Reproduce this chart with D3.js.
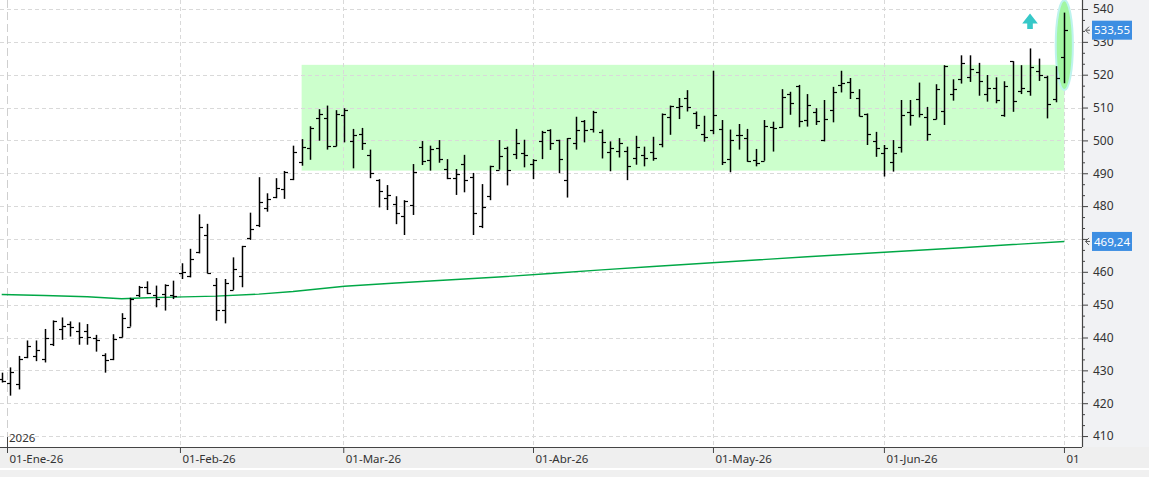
<!DOCTYPE html>
<html>
<head>
<meta charset="utf-8">
<script src="https://cdn.jsdelivr.net/npm/d3@7"></script>
<style>
  body { margin: 0; background: #fff; }
  text { font-family: "Noto Sans", "Open Sans", sans-serif; }
</style>
</head>
<body>
<div id="chart"></div>
<script>
// daily OHLC bars, 31-Dic-25 .. 01-Jul-26 (one per trading day)
var opens = [427.3,426.3,425.7,434.2,434.4,433.4,437.9,442.5,444.1,441.9,441.9,439.7,434.8,433.4,440.1,443.3,452.8,455.4,453.0,453.1,452.8,459.5,458.7,466.1,471.2,456.0,448.3,454.5,458.7,470.2,474.1,479.3,482.9,485.1,
  488.2,493.5,497.7,506.8,506.8,498.2,507.7,499.9,501.9,495.5,488.0,482.5,480.6,477.1,480.3,498.1,494.1,497.6,491.3,488.6,492.8,488.8,474.0,483.1,491.1,497.7,495.8,496.1,492.8,499.9,503.2,500.1,487.9,499.2,506.0,
  503.5,502.6,496.5,496.9,496.9,494.6,495.5,496.5,498.9,507.2,510.3,512.9,508.3,501.9,503.1,503.5,494.3,501.6,500.7,494.0,493.8,504.2,504.0,514.1,516.6,506.2,508.5,500.1,509.2,516.9,517.7,512.9,508.0,499.9,
  496.3,493.5,498.1,508.6,512.5,507.2,506.4,509.0,514.0,518.6,519.4,520.7,514.1,516.1,507.7,524.1,515.0,515.0,521.1,519.4,512.6,525.3];
var highs = [429.3,430.9,434.4,439.1,439.1,442.6,445.2,446.1,444.9,444.6,444.1,440.8,435.2,441.0,447.4,452.1,455.7,457.1,455.8,456.2,457.3,462.6,467.0,477.5,474.6,458.1,457.8,464.4,467.9,478.0,488.8,483.9,488.5,490.7,
  498.4,500.4,504.3,509.5,510.6,509.2,509.8,503.5,503.8,497.2,488.2,486.4,483.0,481.8,492.8,499.8,498.4,500.1,494.3,491.3,495.6,490.1,486.7,492.3,500.1,498.1,503.5,500.2,494.3,502.9,503.4,500.2,500.7,507.2,506.2,
  509.0,503.3,499.7,500.7,498.1,501.4,498.1,501.1,508.2,510.6,512.9,515.3,508.8,507.5,521.2,506.2,503.3,505.0,503.5,497.4,506.2,505.7,515.6,514.8,516.9,514.1,509.8,512.3,516.3,521.2,519.0,515.6,508.2,502.6,
  498.6,500.1,512.3,512.3,517.6,510.2,517.1,522.9,518.6,525.9,525.9,523.6,519.9,519.2,518.0,524.1,522.9,528.0,524.9,519.7,522.6,538.9];
var lows = [426.3,422.3,424.2,433.7,432.8,432.4,437.4,439.3,440.3,437.8,437.8,435.7,429.3,433.1,440.0,443.3,452.3,453.2,449.2,448.2,451.7,457.8,458.3,465.6,459.5,445.1,444.3,454.5,455.3,469.7,473.6,478.3,482.4,482.2,
  487.9,492.3,494.1,499.9,497.2,498.2,499.4,491.5,497.1,488.5,479.6,478.8,474.5,471.2,477.3,492.5,490.8,493.2,488.2,483.4,484.2,471.2,473.3,481.8,491.1,486.3,494.3,491.8,488.2,494.3,497.1,490.0,482.6,497.2,499.4,
  502.4,494.5,490.6,494.8,487.9,492.6,492.1,493.8,497.9,501.7,506.5,508.8,503.5,499.6,501.9,492.5,490.3,497.2,493.5,492.1,493.8,496.6,503.8,507.8,504.0,504.2,504.7,499.7,505.5,514.6,512.6,507.3,498.6,495.0,
  489.0,490.5,496.3,504.5,507.0,499.9,506.4,504.7,512.1,517.3,517.8,513.6,511.8,511.3,507.2,508.7,514.1,513.6,518.1,506.7,511.6,517.4];
var closes = [426.8,429.6,433.4,437.4,436.3,439.7,445.0,443.6,443.1,440.2,440.3,439.1,433.1,439.4,445.8,451.8,455.5,453.5,451.7,456.0,452.7,459.8,463.9,473.6,459.7,448.3,456.7,461.0,467.9,472.9,481.3,482.1,485.6,490.4,
  496.5,498.0,503.8,508.0,498.2,508.0,509.2,501.6,499.2,490.0,484.6,483.4,477.9,481.6,490.5,493.8,497.4,494.2,488.6,489.8,488.0,477.8,479.8,492.1,495.2,491.1,499.3,495.5,494.0,502.6,499.2,494.3,500.6,503.1,503.1,
  508.7,499.6,497.7,499.2,492.3,498.1,494.5,494.7,508.0,510.4,510.6,510.1,504.8,500.9,507.8,493.5,500.1,501.6,493.7,493.1,504.4,503.8,513.1,511.4,505.8,510.9,505.8,506.5,514.6,517.5,514.8,507.5,502.1,497.7,
  497.6,496.1,507.7,507.6,507.9,502.1,515.5,522.6,515.5,523.7,521.6,518.1,515.8,512.3,516.6,512.1,515.8,522.2,519.9,511.1,518.9,533.55];

// moving average, read at some bars
var maIdx = [0,5,10,14,17,20,25,30,34,40,46,52,58,64,70,76,82,88,94,100,106,112,118,124];
var maVal = [453.1,452.8,452.4,451.8,452.1,452.3,452.6,453.2,454.0,455.6,456.6,457.5,458.4,459.5,460.6,461.6,462.6,463.6,464.6,465.5,466.4,467.3,468.3,469.24];

// month marks (bar index) and labels
var monthIdx = [0.62, 20.8, 39.86, 62, 83, 102.95, 123.96];
var monthLabels = ["01-Ene-26", "01-Feb-26", "01-Mar-26", "01-Abr-26", "01-May-26", "01-Jun-26", "01"];
var yTicks = d3.range(410, 541, 10);
var yearLabel = "2026";

// range box (bar index from/to, price low/high), ellipse and arrow
var boxIdx = [35, 124];
var boxVal = [490.8, 523.0];
var ellipseIdx = 124, ellipseVal = 529, ellipseSpan = 13.7;
var arrowIdx = 120, arrowVal = 538.6;

var width = 1149, height = 477;
var plotRight = 1082, plotBottom = 447;

var svg = d3.select("#chart").append("svg")
    .attr("width", width)
    .attr("height", height);

var x = d3.scaleLinear().domain([0, 124]).range([1.7, 1064.3]);
var y = d3.scaleLinear().domain([410, 540]).range([436.05, 9]);

var loc = d3.formatLocale({decimal: ",", thousands: ".", grouping: [3], currency: ["", ""]});
var fmt2 = loc.format(".2f");

// snapped bar centre
function bx(i) { return Math.round(x(i)) + 0.5; }

// panels
svg.append("rect").attr("x", 0).attr("y", 0).attr("width", width).attr("height", height).attr("fill", "#fff");
svg.append("rect").attr("x", plotRight).attr("y", 0).attr("width", width - plotRight).attr("height", plotBottom).attr("fill", "#f1f2f4");
svg.append("rect").attr("x", 0).attr("y", plotBottom).attr("width", width).attr("height", 21).attr("fill", "#efefef");
svg.append("rect").attr("x", 0).attr("y", 470).attr("width", width).attr("height", 7).attr("fill", "#f0f0f0");

svg.append("clipPath").attr("id", "clip")
  .append("rect").attr("x", 0).attr("y", 0).attr("width", plotRight).attr("height", plotBottom);

var plot = svg.append("g").attr("clip-path", "url(#clip)");

// green range box
plot.append("rect")
    .attr("x", x(boxIdx[0]))
    .attr("y", y(boxVal[1]))
    .attr("width", x(boxIdx[1]) - x(boxIdx[0]))
    .attr("height", y(boxVal[0]) - y(boxVal[1]))
    .attr("fill", "#ccffcc");

// grid
plot.selectAll(".hgrid").data(yTicks).enter().append("line")
    .attr("class", "hgrid")
    .attr("x1", 0).attr("x2", plotRight)
    .attr("y1", function(d) { return Math.round(y(d)) + 0.5; })
    .attr("y2", function(d) { return Math.round(y(d)) + 0.5; })
    .attr("stroke", "#d9d9d9").attr("stroke-dasharray", "4,3");

plot.selectAll(".vgrid").data(monthIdx).enter().append("line")
    .attr("class", "vgrid")
    .attr("x1", function(d) { return Math.round(x(d)) + 0.5; })
    .attr("x2", function(d) { return Math.round(x(d)) + 0.5; })
    .attr("y1", 0).attr("y2", plotBottom)
    .attr("stroke", function(d, i) { return i == 0 ? "#cfcfcf" : "#d9d9d9"; })
    .attr("stroke-dasharray", function(d, i) { return i == 0 ? "8,4" : "4,3"; });

// moving average
var ma = maIdx.map(function(d, i) { return [d, maVal[i]]; });
plot.append("path")
    .datum(ma)
    .attr("fill", "none")
    .attr("stroke", "#00a846")
    .attr("stroke-width", 1.4)
    .attr("d", d3.line().x(function(d) { return x(d[0]); }).y(function(d) { return y(d[1]); }));

// ellipse on last bar
plot.append("ellipse")
    .attr("cx", x(ellipseIdx))
    .attr("cy", y(ellipseVal))
    .attr("rx", x(ellipseIdx) - x(ellipseIdx - 1))
    .attr("ry", y(ellipseVal - ellipseSpan) - y(ellipseVal))
    .attr("fill", "#a2f6a2")
    .attr("stroke", "#bdf3ee")
    .attr("stroke-width", 2);

// arrow
var ax = x(arrowIdx), ay = y(arrowVal);
plot.append("path")
    .attr("d", "M" + ax + "," + ay + " L" + (ax + 7.8) + "," + (ay + 10) + " L" + (ax + 2.8) + "," + (ay + 10) +
      " L" + (ax + 2.8) + "," + (ay + 15.5) + " L" + (ax - 2.8) + "," + (ay + 15.5) + " L" + (ax - 2.8) + "," + (ay + 10) +
      " L" + (ax - 7.8) + "," + (ay + 10) + "Z")
    .attr("fill", "#36c8c8");

// OHLC bars
var bars = plot.selectAll(".bar").data(opens).enter().append("g")
    .attr("class", "bar")
    .attr("stroke", "#000")
    .attr("stroke-width", 1.5);

bars.append("line")
    .attr("x1", function(d, i) { return bx(i); }).attr("x2", function(d, i) { return bx(i); })
    .attr("y1", function(d, i) { return y(highs[i]); }).attr("y2", function(d, i) { return y(lows[i]); });
bars.append("line")
    .attr("x1", function(d, i) { return bx(i) - 3.5; }).attr("x2", function(d, i) { return bx(i); })
    .attr("y1", function(d) { return Math.round(y(d)) + 0.5; }).attr("y2", function(d) { return Math.round(y(d)) + 0.5; })
    .attr("stroke-width", 1.2);
bars.append("line")
    .attr("x1", function(d, i) { return bx(i); }).attr("x2", function(d, i) { return bx(i) + 3.5; })
    .attr("y1", function(d, i) { return Math.round(y(closes[i])) + 0.5; }).attr("y2", function(d, i) { return Math.round(y(closes[i])) + 0.5; })
    .attr("stroke-width", 1.2);

// right axis
var yAxis = svg.append("g")
    .attr("transform", "translate(" + plotRight + ",0)")
    .call(d3.axisRight(y).tickValues(yTicks).tickSize(6).tickPadding(5).tickFormat(d3.format("d")));
yAxis.select(".domain").remove();
yAxis.selectAll("text").attr("font-size", 12).attr("fill", "#333");
yAxis.selectAll("line").attr("stroke", "#444");

var minor = [];
yTicks.forEach(function(t) { if (t < 540) { minor.push(t + 10 / 3); minor.push(t + 20 / 3); } });
var yMinor = svg.append("g")
    .attr("transform", "translate(" + plotRight + ",0)")
    .call(d3.axisRight(y).tickValues(minor).tickSize(3).tickFormat(""));
yMinor.select(".domain").remove();
yMinor.selectAll("line").attr("stroke", "#444");

svg.append("line")
    .attr("x1", plotRight + 0.5).attr("x2", plotRight + 0.5)
    .attr("y1", 0).attr("y2", plotBottom)
    .attr("stroke", "#444").attr("stroke-width", 1.2);

// bottom axis
var xAxis = svg.append("g")
    .attr("transform", "translate(0," + plotBottom + ")")
    .call(d3.axisBottom(x).tickValues(monthIdx).tickSize(6)
      .tickFormat(function(d, i) { return monthLabels[i]; }));
xAxis.select(".domain").remove();
xAxis.selectAll("line").attr("stroke", "#444");
xAxis.selectAll("text")
    .attr("text-anchor", "start")
    .attr("x", 2).attr("y", 16).attr("dy", 0)
    .attr("font-size", 11.5).attr("fill", "#333");

svg.append("line")
    .attr("x1", 0).attr("x2", plotRight)
    .attr("y1", plotBottom + 0.5).attr("y2", plotBottom + 0.5)
    .attr("stroke", "#444").attr("stroke-width", 1.2);

// year marker
svg.append("line")
    .attr("x1", Math.round(x(monthIdx[0])) + 0.5).attr("x2", Math.round(x(monthIdx[0])) + 0.5)
    .attr("y1", 437).attr("y2", plotBottom)
    .attr("stroke", "#444");
svg.append("text")
    .attr("x", x(monthIdx[0]) + 2).attr("y", 442)
    .attr("font-size", 11.5).attr("fill", "#333")
    .text(yearLabel);

// last value labels
var tags = [closes[closes.length - 1], maVal[maVal.length - 1]];
tags.forEach(function(v) {
  var ty = y(v);
  svg.append("path")
      .attr("d", "M1089," + (ty - 3.5) + " L1085.5," + ty + " L1089," + (ty + 3.5) + " M1085.5," + ty + " L1090," + ty)
      .attr("fill", "none").attr("stroke", "#555").attr("stroke-width", 1);
  svg.append("rect")
      .attr("x", 1092).attr("y", ty - 9.5)
      .attr("width", 40).attr("height", 19)
      .attr("fill", "#3d8ee2");
  svg.append("text")
      .attr("x", 1112).attr("y", ty + 4.2)
      .attr("text-anchor", "middle")
      .attr("font-size", 11.5).attr("fill", "#fff")
      .text(fmt2(v));
});
</script>
</body>
</html>
